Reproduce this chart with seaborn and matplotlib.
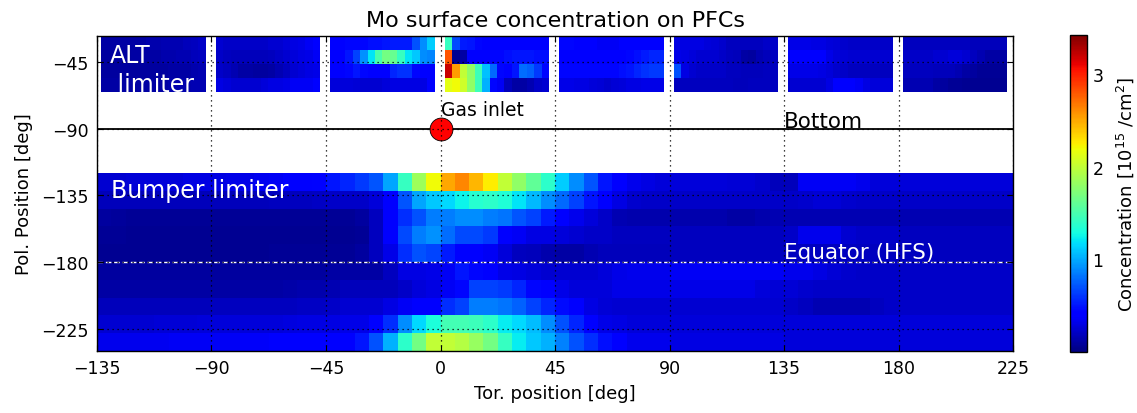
import numpy as np
import pandas as pd
import seaborn as sns
import matplotlib.pyplot as plt
from matplotlib.transforms import Affine2D

# Mo surface concentration in 1e15 / cm^2

# Bumper limiter: 10 poloidal bins of 12 deg starting at -120 deg (top row first),
# 64 toroidal bins of 5.625 deg starting at -135 deg
bumper_tor_start, bumper_tor_step = -135.0, 5.625
bumper_pol_top, bumper_pol_step = -120.0, 12.0

bumper = [
    [0.25, 0.25, 0.26, 0.27, 0.28, 0.28, 0.30, 0.30, 0.30, 0.32, 0.32, 0.34, 0.36, 0.38, 0.40, 0.44,
     0.50, 0.55, 0.62, 0.72, 0.98, 1.42, 1.85, 2.20, 2.50, 2.62, 2.45, 2.25, 2.00, 1.80, 1.60, 1.38,
     1.12, 0.90, 0.72, 0.50, 0.40, 0.33, 0.30, 0.28, 0.28, 0.28, 0.28, 0.28, 0.26, 0.26, 0.24, 0.18,
     0.18, 0.35, 0.35, 0.35, 0.35, 0.33, 0.27, 0.27, 0.27, 0.27, 0.27, 0.27, 0.27, 0.27, 0.27, 0.27],
    [0.18, 0.18, 0.18, 0.18, 0.18, 0.18, 0.18, 0.18, 0.18, 0.18, 0.18, 0.18, 0.19, 0.20, 0.20, 0.21,
     0.22, 0.22, 0.22, 0.28, 0.40, 0.72, 0.98, 1.10, 1.15, 1.25, 1.35, 1.38, 1.33, 1.20, 1.05, 0.90,
     0.78, 0.65, 0.50, 0.38, 0.30, 0.24, 0.22, 0.22, 0.22, 0.22, 0.22, 0.22, 0.22, 0.22, 0.22, 0.22,
     0.22, 0.24, 0.26, 0.26, 0.24, 0.22, 0.22, 0.22, 0.22, 0.22, 0.22, 0.22, 0.22, 0.22, 0.22, 0.22],
    [0.10, 0.09, 0.08, 0.08, 0.08, 0.08, 0.08, 0.08, 0.08, 0.08, 0.08, 0.08, 0.08, 0.08, 0.08, 0.08,
     0.08, 0.08, 0.10, 0.20, 0.38, 0.58, 0.70, 0.85, 0.85, 0.90, 0.90, 0.85, 0.82, 0.72, 0.65, 0.52,
     0.42, 0.33, 0.28, 0.22, 0.16, 0.14, 0.14, 0.14, 0.14, 0.14, 0.14, 0.14, 0.12, 0.12, 0.14, 0.15,
     0.15, 0.15, 0.15, 0.15, 0.15, 0.15, 0.15, 0.15, 0.15, 0.15, 0.15, 0.15, 0.15, 0.15, 0.15, 0.15],
    [0.07, 0.07, 0.06, 0.06, 0.06, 0.06, 0.06, 0.06, 0.06, 0.06, 0.06, 0.06, 0.06, 0.06, 0.06, 0.06,
     0.06, 0.06, 0.08, 0.20, 0.38, 0.68, 0.85, 0.92, 0.80, 0.68, 0.68, 0.62, 0.40, 0.35, 0.30, 0.30,
     0.28, 0.25, 0.22, 0.22, 0.20, 0.20, 0.20, 0.20, 0.20, 0.20, 0.20, 0.20, 0.20, 0.20, 0.20, 0.20,
     0.22, 0.33, 0.33, 0.33, 0.25, 0.22, 0.22, 0.22, 0.20, 0.20, 0.20, 0.20, 0.20, 0.20, 0.20, 0.20],
    [0.06, 0.06, 0.06, 0.06, 0.06, 0.06, 0.06, 0.06, 0.06, 0.06, 0.06, 0.06, 0.07, 0.07, 0.07, 0.07,
     0.07, 0.08, 0.10, 0.20, 0.32, 0.58, 0.70, 0.66, 0.52, 0.42, 0.40, 0.35, 0.28, 0.20, 0.18, 0.14,
     0.12, 0.12, 0.16, 0.18, 0.18, 0.18, 0.18, 0.18, 0.20, 0.20, 0.20, 0.20, 0.20, 0.20, 0.20, 0.20,
     0.20, 0.20, 0.20, 0.20, 0.20, 0.20, 0.20, 0.20, 0.20, 0.20, 0.20, 0.20, 0.20, 0.20, 0.20, 0.20],
    [0.10, 0.10, 0.10, 0.10, 0.10, 0.10, 0.10, 0.10, 0.10, 0.10, 0.10, 0.10, 0.10, 0.10, 0.10, 0.10,
     0.11, 0.12, 0.12, 0.12, 0.20, 0.30, 0.30, 0.32, 0.35, 0.50, 0.45, 0.38, 0.32, 0.30, 0.28, 0.25,
     0.25, 0.25, 0.25, 0.28, 0.32, 0.33, 0.33, 0.33, 0.35, 0.35, 0.35, 0.35, 0.35, 0.35, 0.35, 0.35,
     0.33, 0.33, 0.30, 0.26, 0.24, 0.22, 0.22, 0.22, 0.22, 0.22, 0.22, 0.22, 0.22, 0.22, 0.22, 0.22],
    [0.12, 0.12, 0.12, 0.12, 0.12, 0.12, 0.12, 0.12, 0.12, 0.12, 0.12, 0.12, 0.12, 0.13, 0.14, 0.14,
     0.15, 0.18, 0.18, 0.18, 0.18, 0.22, 0.28, 0.30, 0.35, 0.45, 0.65, 0.65, 0.62, 0.55, 0.45, 0.40,
     0.32, 0.28, 0.28, 0.28, 0.32, 0.32, 0.32, 0.32, 0.32, 0.32, 0.32, 0.32, 0.32, 0.32, 0.28, 0.26,
     0.26, 0.24, 0.22, 0.22, 0.22, 0.22, 0.22, 0.22, 0.22, 0.22, 0.22, 0.22, 0.22, 0.22, 0.22, 0.22],
    [0.18, 0.18, 0.18, 0.18, 0.18, 0.18, 0.18, 0.18, 0.19, 0.19, 0.19, 0.20, 0.20, 0.20, 0.21, 0.21,
     0.22, 0.25, 0.25, 0.25, 0.30, 0.35, 0.38, 0.42, 0.58, 0.65, 0.85, 0.85, 0.82, 0.75, 0.65, 0.56,
     0.46, 0.40, 0.30, 0.26, 0.25, 0.25, 0.25, 0.25, 0.25, 0.25, 0.25, 0.25, 0.25, 0.25, 0.25, 0.25,
     0.22, 0.20, 0.16, 0.15, 0.15, 0.16, 0.20, 0.22, 0.22, 0.22, 0.22, 0.22, 0.22, 0.22, 0.22, 0.22],
    [0.25, 0.25, 0.25, 0.25, 0.26, 0.26, 0.26, 0.27, 0.27, 0.27, 0.28, 0.28, 0.28, 0.29, 0.30, 0.30,
     0.30, 0.32, 0.32, 0.38, 0.58, 0.90, 1.15, 1.32, 1.48, 1.48, 1.45, 1.38, 1.22, 1.15, 1.06, 0.90,
     0.70, 0.55, 0.42, 0.32, 0.30, 0.28, 0.28, 0.28, 0.28, 0.28, 0.28, 0.28, 0.28, 0.28, 0.28, 0.28,
     0.28, 0.28, 0.28, 0.28, 0.28, 0.28, 0.28, 0.28, 0.28, 0.28, 0.28, 0.28, 0.28, 0.28, 0.28, 0.28],
    [0.33, 0.33, 0.33, 0.34, 0.34, 0.35, 0.35, 0.36, 0.36, 0.36, 0.37, 0.37, 0.38, 0.38, 0.38, 0.38,
     0.38, 0.42, 0.50, 0.70, 1.02, 1.38, 1.68, 2.00, 2.00, 1.95, 1.82, 1.68, 1.42, 1.22, 1.10, 1.02,
     0.86, 0.70, 0.58, 0.48, 0.40, 0.33, 0.33, 0.33, 0.30, 0.30, 0.30, 0.30, 0.30, 0.30, 0.30, 0.30,
     0.28, 0.28, 0.28, 0.28, 0.28, 0.28, 0.28, 0.28, 0.28, 0.28, 0.28, 0.28, 0.28, 0.28, 0.28, 0.28],
]

# ALT limiter: 8 tiles, each 4 poloidal rows (top first) x 14 toroidal bins
alt_tor_starts = [-133.3, -88.3, -43.3, 1.7, 46.7, 91.7, 136.7, 181.7]
alt_tile_width = 41.0
alt_pol_top, alt_pol_step = -27.5, 9.375

alt_tile1 = [
    [0.12, 0.12, 0.12, 0.12, 0.12, 0.12, 0.14, 0.14, 0.15, 0.15, 0.16, 0.18, 0.20, 0.22],
    [0.10, 0.10, 0.10, 0.10, 0.12, 0.12, 0.12, 0.12, 0.14, 0.14, 0.15, 0.16, 0.18, 0.20],
    [0.10, 0.10, 0.10, 0.10, 0.10, 0.10, 0.10, 0.10, 0.10, 0.12, 0.12, 0.12, 0.14, 0.15],
    [0.12, 0.12, 0.12, 0.12, 0.12, 0.12, 0.12, 0.12, 0.12, 0.14, 0.14, 0.14, 0.15, 0.16],
]
alt_tile2 = [
    [0.25, 0.22, 0.22, 0.22, 0.22, 0.22, 0.22, 0.25, 0.25, 0.28, 0.30, 0.32, 0.35, 0.38],
    [0.22, 0.20, 0.18, 0.18, 0.18, 0.18, 0.18, 0.20, 0.22, 0.25, 0.28, 0.30, 0.32, 0.35],
    [0.22, 0.20, 0.15, 0.12, 0.12, 0.10, 0.10, 0.12, 0.15, 0.20, 0.25, 0.28, 0.30, 0.32],
    [0.30, 0.28, 0.25, 0.25, 0.25, 0.25, 0.28, 0.30, 0.30, 0.32, 0.35, 0.35, 0.36, 0.38],
]
alt_tile3 = [
    [0.38, 0.40, 0.45, 0.45, 0.45, 0.48, 0.48, 0.50, 0.52, 0.52, 0.52, 0.70, 0.90, 1.12],
    [0.38, 0.42, 0.50, 0.65, 0.92, 1.20, 1.50, 1.68, 1.62, 1.42, 1.20, 1.10, 0.90, 0.88],
    [0.38, 0.42, 0.45, 0.50, 0.45, 0.40, 0.38, 0.40, 0.55, 0.60, 0.60, 0.45, 0.38, 0.38],
    [0.28, 0.28, 0.28, 0.26, 0.25, 0.25, 0.25, 0.28, 0.30, 0.30, 0.30, 0.30, 0.30, 0.40],
]
alt_tile4 = [
    [1.42, 0.68, 0.52, 0.50, 0.45, 0.42, 0.40, 0.40, 0.40, 0.40, 0.40, 0.40, 0.40, 0.40],
    [2.80, 0.06, 0.12, 0.38, 0.42, 0.42, 0.45, 0.45, 0.48, 0.50, 0.50, 0.50, 0.48, 0.48],
    [3.20, 2.55, 2.00, 1.80, 1.45, 1.08, 0.78, 0.45, 0.38, 0.50, 0.80, 0.75, 0.62, 0.45],
    [2.15, 2.20, 2.05, 1.80, 1.45, 1.02, 0.45, 0.35, 0.18, 0.12, 0.12, 0.15, 0.22, 0.25],
]
alt_tile5 = [
    [0.45, 0.45, 0.42, 0.40, 0.38, 0.36, 0.36, 0.36, 0.38, 0.40, 0.40, 0.40, 0.42, 0.42],
    [0.42, 0.42, 0.42, 0.42, 0.42, 0.42, 0.42, 0.42, 0.42, 0.45, 0.48, 0.52, 0.55, 0.55],
    [0.45, 0.45, 0.45, 0.45, 0.45, 0.45, 0.45, 0.45, 0.48, 0.50, 0.55, 0.60, 0.62, 0.62],
    [0.32, 0.32, 0.30, 0.30, 0.28, 0.26, 0.24, 0.26, 0.28, 0.30, 0.30, 0.32, 0.32, 0.32],
]
alt_tile6 = [
    [0.30, 0.30, 0.30, 0.30, 0.28, 0.26, 0.24, 0.20, 0.20, 0.20, 0.20, 0.20, 0.22, 0.22],
    [0.32, 0.30, 0.28, 0.25, 0.25, 0.25, 0.22, 0.20, 0.18, 0.12, 0.10, 0.15, 0.18, 0.20],
    [0.70, 0.30, 0.25, 0.22, 0.22, 0.22, 0.22, 0.20, 0.20, 0.18, 0.18, 0.18, 0.20, 0.20],
    [0.20, 0.20, 0.20, 0.20, 0.20, 0.20, 0.20, 0.20, 0.18, 0.18, 0.20, 0.20, 0.20, 0.20],
]
alt_tile7 = [
    [0.32, 0.32, 0.32, 0.30, 0.30, 0.28, 0.26, 0.24, 0.22, 0.22, 0.22, 0.22, 0.22, 0.22],
    [0.38, 0.40, 0.40, 0.40, 0.38, 0.32, 0.28, 0.26, 0.25, 0.25, 0.25, 0.25, 0.25, 0.25],
    [0.32, 0.32, 0.32, 0.32, 0.30, 0.28, 0.24, 0.22, 0.20, 0.20, 0.20, 0.20, 0.20, 0.20],
    [0.25, 0.25, 0.25, 0.25, 0.25, 0.30, 0.38, 0.40, 0.38, 0.35, 0.30, 0.28, 0.28, 0.28],
]
alt_tile8 = [
    [0.20, 0.20, 0.20, 0.20, 0.20, 0.20, 0.20, 0.20, 0.20, 0.18, 0.18, 0.18, 0.18, 0.18],
    [0.22, 0.22, 0.22, 0.22, 0.25, 0.25, 0.28, 0.28, 0.25, 0.20, 0.15, 0.12, 0.12, 0.12],
    [0.20, 0.20, 0.20, 0.20, 0.18, 0.18, 0.18, 0.15, 0.12, 0.10, 0.08, 0.08, 0.08, 0.08],
    [0.15, 0.15, 0.15, 0.15, 0.12, 0.10, 0.08, 0.08, 0.06, 0.06, 0.06, 0.06, 0.06, 0.06],
]
alt_tiles = [alt_tile1, alt_tile2, alt_tile3, alt_tile4,
             alt_tile5, alt_tile6, alt_tile7, alt_tile8]

tor_ticks = [-135, -90, -45, 0, 45, 90, 135, 180, 225]
pol_ticks = [-225, -180, -135, -90, -45]
cbar_ticks = [1, 2, 3]
vmin, vmax = 0.0, 3.42

sns.set_style("ticks")
plt.rcParams.update({
    "font.family": ["DejaVu Sans"],
    "text.color": "black",
    "axes.labelcolor": "black",
    "axes.edgecolor": "black",
    "xtick.color": "black",
    "ytick.color": "black",
})

fig = plt.figure(figsize=(11.37, 4.14), dpi=100)
ax = fig.add_axes([97 / 1137, 62 / 414, 916 / 1137, 315 / 414])
cax = fig.add_axes([1070 / 1137, 61 / 414, 17 / 1137, 317 / 414])


def draw_block(values, tor0, tor_step, pol0, pol_step, **kws):
    # seaborn puts cells on integer index positions -> map them onto degrees
    to_deg = Affine2D().scale(tor_step, -pol_step).translate(tor0, pol0)
    sns.heatmap(pd.DataFrame(values), ax=ax, cmap="jet", vmin=vmin, vmax=vmax,
                xticklabels=False, yticklabels=False,
                transform=to_deg + ax.transData, **kws)


draw_block(bumper, bumper_tor_start, bumper_tor_step, bumper_pol_top, bumper_pol_step,
           cbar_ax=cax, cbar_kws={"ticks": cbar_ticks})
for start, tile in zip(alt_tor_starts, alt_tiles):
    draw_block(tile, start, alt_tile_width / len(tile[0]), alt_pol_top, alt_pol_step,
               cbar=False)

# undo the heatmap defaults (inverted axis, hidden spines, no ticks)
ax.set_xlim(-135, 225)
ax.set_ylim(-240, -27.5)
ax.set_xticks(tor_ticks, labels=[str(t).replace("-", "\u2212") for t in tor_ticks])
ax.set_yticks(pol_ticks, labels=[str(t).replace("-", "\u2212") for t in pol_ticks])
plt.setp(ax.get_yticklabels(), rotation=0, va="center_baseline")
for sp in ax.spines.values():
    sp.set_visible(True)
    sp.set_linewidth(1.0)
ax.tick_params(direction="in", top=True, right=True, length=4, width=0.8,
               labelsize=12.5, pad=6)
ax.grid(True, color="black", linestyle=(0, (1, 3)), linewidth=0.9)
ax.set_axisbelow(False)

ax.axhline(-90, color="black", linewidth=1.3, zorder=2)
ax.axhline(-180, color="white", linestyle=(0, (4, 2)), linewidth=1.0, zorder=2)
ax.plot([0], [-90], "o", markersize=16.5, markerfacecolor="red",
        markeredgecolor="black", markeredgewidth=0.6, zorder=2.2)

ax.text(-130, -45, "ALT", color="white", fontsize=17)
ax.text(-130, -64.5, " limiter", color="white", fontsize=17)
ax.text(-129.6, -136.3, "Bumper limiter", color="white", fontsize=17)
ax.text(135, -177.3, "Equator (HFS)", color="white", fontsize=15.5)
ax.text(135, -88.8, "Bottom", color="black", fontsize=15.5)
ax.text(0.3, -80.7, "Gas inlet", color="black", fontsize=13.5)

ax.set_title("Mo surface concentration on PFCs", fontsize=16, pad=7)
ax.set_xlabel("Tor. position [deg]", fontsize=13, labelpad=5)
ax.set_ylabel("Pol. Position [deg]", fontsize=13, labelpad=6)

cbar = ax.collections[0].colorbar
cbar.outline.set_linewidth(1.0)
cbar.outline.set_edgecolor("black")
cbar.ax.tick_params(direction="in", length=5, labelsize=12.5, pad=4)
cbar.set_label(r"Concentration [$10^{15}$ /cm$^2$]", fontsize=13, labelpad=8)

fig.savefig("out.png", dpi=100)
